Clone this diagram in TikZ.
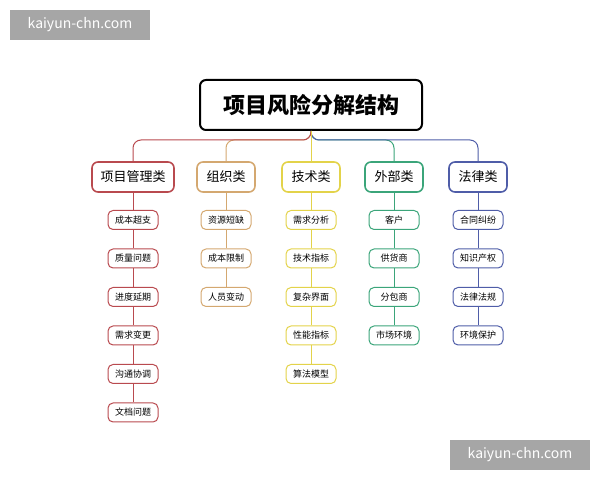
\documentclass[tikz,border=0pt]{standalone}
\usepackage{fontspec}
\setmainfont{Noto Sans CJK SC}
\usetikzlibrary{positioning}
\definecolor{cred}{HTML}{B94A4F}
\definecolor{corg}{HTML}{D4A870}
\definecolor{cyel}{HTML}{E3D34A}
\definecolor{cgrn}{HTML}{3BA57A}
\definecolor{cblu}{HTML}{4F5DA8}
\definecolor{wmark}{HTML}{A6A6A6}
\begin{document}
\begin{tikzpicture}[x=0.5pt, y=-0.5pt, thick,
  title/.style = {draw, rounded corners=3pt, line width=1pt, minimum width=111pt, minimum height=25pt, font=\fontsize{11}{11}\selectfont\bfseries},
  cat/.style = {draw=#1, rounded corners=3pt, minimum height=15pt, minimum width=29pt, font=\fontsize{6.5}{6.5}\selectfont},
  leaf/.style = {draw=#1, rounded corners=2.5pt, line width=0.5pt, minimum height=9.5pt, minimum width=25pt, inner sep=1pt, font=\fontsize{4.5}{4.5}\selectfont},
  link/.style = {draw=#1, line width=0.5pt, rounded corners=4pt},
  wmk/.style = {fill=wmark, text=white, minimum width=70pt, minimum height=15pt, font=\fontsize{7}{7}\selectfont}]
\useasboundingbox (0,0) rectangle (600,480);
\node[wmk] (w1) at (80,25) {kaiyun-chn.com};
\node[wmk] (w2) at (520,455) {kaiyun-chn.com};
\node[title] (T) at (311,105) {项目风险分解结构};
% categories
\node[cat=cred, minimum width=41pt] (C1) at (133,177) {项目管理类};
\node[cat=corg] (C2) at (226,177) {组织类};
\node[cat=cyel] (C3) at (311,177) {技术类};
\node[cat=cgrn] (C4) at (394,177) {外部类};
\node[cat=cblu] (C5) at (478,177) {法律类};
\draw[link=cgrn] (T.south) -- (311,140) -| (C4);
\draw[link=cblu] (T.south) -- (311,140) -| (C5);
\draw[link=corg] (T.south) -- (311,140) -| (C2);
\draw[link=cred] (T.south) -- (311,140) -| (C1);
\draw[link=cyel] (T) -- (C3);
% leaves
\foreach \c/\col/\list in {1/cred/{成本超支,质量问题,进度延期,需求变更,沟通协调,文档问题},
                           2/corg/{资源短缺,成本限制,人员变动},
                           3/cyel/{需求分析,技术指标,复杂界面,性能指标,算法模型},
                           4/cgrn/{客户,供货商,分包商,市场环境},
                           5/cblu/{合同纠纷,知识产权,法律法规,环境保护}} {
  \coordinate (P) at (C\c);
  \foreach \t [count=\i] in \list {
    \path (P) ++(0,{220+38.5*(\i-1)-177}) node[leaf=\col] (L\c-\i) {\t};
  }
  \draw[link=\col] (C\c) -- (L\c-1);
  \foreach \t [count=\i] in \list {
    \ifnum\i>1 \pgfmathtruncatemacro{\j}{\i-1}\draw[link=\col] (L\c-\j) -- (L\c-\i);\fi
  }
}
\end{tikzpicture}
\end{document}
